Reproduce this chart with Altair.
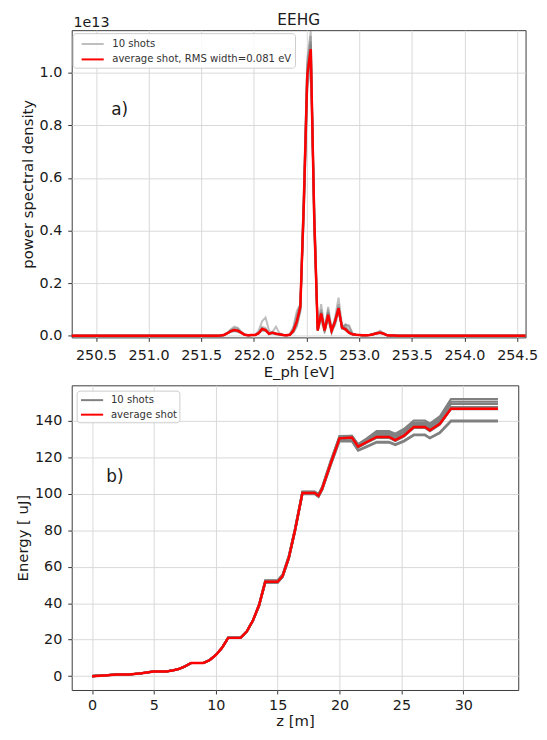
import altair as alt
import pandas as pd

# ---------------- panel a) : spectrum (power in units of 1e13) ----------------
E_LEFT = [250.0]
E_RIGHT = [255.0]
E_CORE = [
    251.649, 251.682, 251.715, 251.748, 251.781, 251.814, 251.847, 251.880, 251.913, 251.946, 251.979,
    252.012, 252.045, 252.078, 252.111, 252.144, 252.177, 252.210, 252.243, 252.276, 252.309, 252.342,
    252.375, 252.408, 252.441, 252.474, 252.507, 252.540, 252.573, 252.606, 252.639, 252.672, 252.705,
    252.738, 252.771, 252.804, 252.837, 252.870, 252.903, 252.936, 252.969, 253.002, 253.035, 253.068,
    253.101, 253.134, 253.167, 253.200, 253.233, 253.266, 253.299, 253.332, 253.365, 253.398, 253.431,
]

SPEC_AVG = [
    0, .001, .003, .010, .018, .022, .020, .012, .004, .002, .003,
    .003, .010, .026, .022, .008, .012, .008, .006, .003, .002, .004,
    .020, .055, .11, .50, .99, 1.09, .45, .02, .085, .02, .08,
    .02, .055, .105, .031, .025, .012, .006, .004, .003, .002, .002,
    .003, .006, .010, .012, .008, .002, .001, .001, 0, 0, 0,
]

SPEC_SHOT_1 = [
    0, .001, .004, .012, .025, .035, .030, .015, .005, .002, .003,
    .004, .020, .055, .070, .020, .010, .006, .005, .003, .002, .005,
    .030, .080, .120, .55, 1.05, 1.16, .40, .03, .12, .03, .10,
    .02, .07, .145, .04, .03, .015, .006, .004, .003, .002, .002,
    .004, .008, .012, .020, .010, .003, .001, .001, 0, 0, 0,
]
SPEC_SHOT_2 = [
    0, .001, .003, .010, .020, .025, .022, .012, .004, .002, .003,
    .003, .008, .030, .025, .006, .015, .035, .010, .004, .002, .004,
    .015, .040, .10, .48, 1.00, 1.10, .48, .02, .06, .01, .11,
    .03, .05, .10, .03, .04, .020, .008, .004, .003, .002, .002,
    .003, .005, .010, .012, .008, .002, .001, .001, 0, 0, 0,
]
SPEC_SHOT_3 = [
    0, .001, .002, .008, .015, .018, .016, .010, .004, .002, .003,
    .003, .010, .020, .018, .006, .010, .006, .005, .003, .002, .006,
    .035, .095, .12, .45, .95, 1.06, .50, .04, .09, .02, .06,
    .01, .05, .11, .03, .02, .010, .005, .004, .003, .002, .002,
    .003, .006, .010, .010, .006, .002, .001, .001, 0, 0, 0,
]
SPEC_SHOT_4 = [
    0, .001, .003, .011, .022, .030, .028, .014, .004, .002, .002,
    .003, .012, .035, .030, .010, .014, .010, .006, .003, .002, .003,
    .012, .035, .09, .52, 1.02, 1.12, .42, .02, .10, .02, .09,
    .02, .04, .09, .04, .03, .015, .006, .004, .003, .002, .002,
    .003, .007, .012, .015, .008, .002, .001, .001, 0, 0, 0,
]
SPEC_SHOT_5 = [
    0, .001, .003, .009, .015, .018, .015, .010, .004, .002, .003,
    .003, .009, .022, .020, .008, .010, .007, .006, .003, .002, .004,
    .018, .050, .10, .47, .94, 1.02, .46, .03, .07, .02, .07,
    .02, .06, .10, .03, .025, .012, .006, .004, .003, .002, .002,
    .003, .006, .009, .011, .007, .002, .001, .001, 0, 0, 0,
]
SPEC_SHOT_6 = [
    0, .001, .003, .010, .018, .024, .022, .012, .005, .002, .003,
    .003, .010, .025, .022, .008, .012, .008, .006, .003, .002, .004,
    .025, .070, .12, .53, 1.03, 1.14, .47, .02, .09, .02, .09,
    .01, .06, .12, .03, .03, .012, .006, .004, .003, .002, .002,
    .003, .006, .010, .013, .008, .002, .001, .001, 0, 0, 0,
]
SPEC_SHOT_7 = [
    0, .001, .003, .010, .017, .020, .018, .011, .004, .002, .003,
    .003, .010, .025, .020, .008, .011, .008, .006, .003, .002, .004,
    .020, .050, .11, .50, .98, 1.08, .45, .03, .08, .02, .08,
    .02, .05, .10, .035, .04, .040, .010, .004, .003, .002, .002,
    .003, .006, .010, .012, .008, .002, .001, .001, 0, 0, 0,
]
SPEC_SHOT_8 = [
    0, .001, .003, .010, .016, .020, .018, .012, .004, .002, .003,
    .003, .011, .024, .020, .008, .012, .008, .006, .003, .002, .004,
    .018, .050, .10, .50, .99, 1.09, .44, .02, .085, .02, .075,
    .02, .055, .10, .03, .025, .012, .006, .004, .003, .002, .002,
    .003, .006, .010, .012, .008, .002, .001, .001, 0, 0, 0,
]
SPEC_SHOT_9 = [
    0, .001, .003, .010, .018, .022, .020, .012, .004, .002, .003,
    .003, .010, .026, .022, .008, .012, .008, .006, .003, .002, .004,
    .020, .055, .11, .49, .97, 1.05, .46, .03, .08, .03, .08,
    .02, .06, .11, .03, .025, .012, .006, .004, .003, .002, .002,
    .003, .006, .010, .012, .008, .002, .001, .001, 0, 0, 0,
]
SPEC_SHOT_10 = [
    0, .001, .003, .010, .018, .022, .020, .012, .004, .002, .003,
    .003, .010, .026, .022, .008, .012, .008, .006, .003, .002, .004,
    .020, .055, .11, .51, 1.00, 1.11, .44, .02, .085, .02, .08,
    .02, .055, .105, .03, .045, .035, .008, .004, .003, .002, .002,
    .003, .006, .010, .012, .008, .002, .001, .001, 0, 0, 0,
]
SPEC_SHOTS = [SPEC_SHOT_1, SPEC_SHOT_2, SPEC_SHOT_3, SPEC_SHOT_4, SPEC_SHOT_5,
              SPEC_SHOT_6, SPEC_SHOT_7, SPEC_SHOT_8, SPEC_SHOT_9, SPEC_SHOT_10]

# ---------------- panel b) : pulse energy along undulator ----------------
Z_M = [
    0, 1, 2, 3, 4, 5, 6, 6.5, 7, 7.5, 8,
    9, 9.5, 10, 10.5, 11, 12, 12.5, 13, 13.5, 14, 15,
    15.4, 15.9, 16.4, 17, 18, 18.3, 18.6, 19.3, 20, 21, 21.5,
    22.2, 23, 24, 24.5, 25.2, 26, 26.9, 27.3, 28.1, 29, 32.8,
]
ENERGY_EARLY = [0, 0.4, 0.9, 0.9, 1.6, 2.6, 2.6, 3.1, 3.9, 5.3, 7.2,
                7.2, 8.8, 11.6, 15.5, 21.0, 21.0, 24.5, 30.5]
ENERGY_AVG_LATE = [39, 51.8, 51.8, 55, 65, 80, 100.5, 100.5, 99, 103, 117, 130.5, 130.9,
                   126, 128.5, 131.3, 131.3, 129.5, 132, 136.7, 136.7, 134.9, 138.5, 146.8, 146.8]
ENERGY_SHOTS_LATE = [
    [39.5, 52.6, 52.6, 55.8, 66, 81, 101.3, 101.3, 99.8, 104, 118.5, 131.7, 131.9,
     127.3, 130.5, 134.5, 134.5, 133, 135.6, 140.3, 140.3, 138.6, 142.5, 152, 152],
    [39.4, 52.4, 52.4, 55.6, 65.8, 80.8, 101.2, 101.2, 99.7, 103.8, 118, 131.5, 131.8,
     127, 130, 133.5, 133.5, 132, 134.6, 139.2, 139.2, 137.5, 141.3, 150.6, 150.6],
    [39.2, 52.2, 52.2, 55.4, 65.5, 80.5, 101, 101, 99.5, 103.5, 117.8, 131.3, 131.6,
     126.8, 129.6, 132.8, 132.8, 131.2, 133.8, 138.4, 138.4, 136.6, 140.4, 149.4, 149.4],
    [39, 52, 52, 55.2, 65.3, 80.3, 100.8, 100.8, 99.3, 103.3, 117.5, 131, 131.3,
     126.5, 129.1, 131.9, 131.9, 130.2, 132.6, 137.4, 137.4, 135.6, 139.2, 147.6, 147.6],
    [38.9, 51.8, 51.8, 55, 65, 80, 100.6, 100.6, 99.1, 103, 117.2, 130.8, 131.1,
     126.2, 128.8, 131.6, 131.6, 129.9, 132.3, 137, 137, 135.2, 138.8, 147.2, 147.2],
    [38.8, 51.7, 51.7, 54.9, 64.9, 79.9, 100.4, 100.4, 98.9, 102.9, 117, 130.5, 130.8,
     125.9, 128.5, 131.3, 131.3, 129.6, 132, 136.8, 136.8, 135, 138.6, 147, 147],
    [38.7, 51.6, 51.6, 54.8, 64.8, 79.8, 100.3, 100.3, 98.8, 102.8, 116.8, 130.3, 130.6,
     125.7, 128.3, 131.1, 131.1, 129.3, 131.8, 136.5, 136.5, 134.7, 138.3, 146.8, 146.8],
    [38.6, 51.5, 51.5, 54.7, 64.7, 79.7, 100.2, 100.2, 98.7, 102.6, 116.6, 130.1, 130.4,
     125.4, 128, 130.8, 130.8, 129, 131.5, 136.2, 136.2, 134.4, 138, 146.5, 146.5],
    [38.6, 51.4, 51.4, 54.5, 64.5, 79.5, 100, 100, 98.5, 102.4, 116.3, 129.4, 129.2,
     124, 126.2, 128.6, 128.6, 127.2, 129.2, 132.6, 132.6, 130.8, 133.8, 140.2, 140.2],
    [38.5, 51.3, 51.3, 54.4, 64.4, 79.4, 99.9, 99.9, 98.4, 102.2, 116, 129, 128.8,
     123.7, 125.8, 128.2, 128.2, 126.8, 128.8, 132.2, 132.2, 130.5, 133.4, 139.8, 139.8],
]

LAB_SHOTS = "10 shots"
LAB_AVG_A = "average shot, RMS width=0.081 eV"
LAB_AVG_B = "average shot"

for s in SPEC_SHOTS + [SPEC_AVG]:
    assert len(s) == len(E_CORE), len(s)
for s in ENERGY_SHOTS_LATE + [ENERGY_AVG_LATE]:
    assert len(ENERGY_EARLY) + len(s) == len(Z_M), len(s)

E_ALL = E_LEFT + E_CORE + E_RIGHT
rows_a = []
for k, s in enumerate(SPEC_SHOTS):
    for e, p in zip(E_ALL, [0.0] + s + [0.0]):
        rows_a.append({"E": e, "P": p, "shot": f"s{k}", "group": LAB_SHOTS})
df_a_shots = pd.DataFrame(rows_a)
df_a_avg = pd.DataFrame({"E": E_ALL, "P": [0.0] + SPEC_AVG + [0.0], "group": LAB_AVG_A})

rows_b = []
for k, s in enumerate(ENERGY_SHOTS_LATE):
    for z, en in zip(Z_M, ENERGY_EARLY + s):
        rows_b.append({"z": z, "W": en, "shot": f"s{k}", "group": LAB_SHOTS})
df_b_shots = pd.DataFrame(rows_b)
df_b_avg = pd.DataFrame({"z": Z_M, "W": ENERGY_EARLY + ENERGY_AVG_LATE, "group": LAB_AVG_B})

FONT = "DejaVu Sans"
TXT = "#1a1a1a"


def legend(x, y, pad, soff, loff, rowpad):
    return alt.Legend(title=None, orient="none", legendX=x, legendY=y,
                      symbolType="M-1.6,0H1.6", symbolSize=196, symbolStrokeWidth=2,
                      labelFont=FONT, labelFontSize=10.2, labelColor="#333", labelLimit=0,
                      fillColor="rgba(255,255,255,0.85)", strokeColor="#cccccc", cornerRadius=3,
                      padding=pad, symbolOffset=soff, labelOffset=loff, rowPadding=rowpad)


def xaxis(values, title, lpad, tpad, fmt=None):
    kw = dict(values=values, title=title, labelFlush=False, labelOverlap=False,
              tickSize=4, labelPadding=lpad, titlePadding=tpad)
    if fmt:
        kw["format"] = fmt
    return alt.Axis(**kw)


def yaxis(values, title, fmt=None):
    kw = dict(values=values, title=title, labelFlush=False, labelOverlap=False,
              tickSize=4, labelPadding=6, titlePadding=3.75)
    if fmt:
        kw["format"] = fmt
    return alt.Axis(**kw)


# ----- top panel -----
xa = alt.X("E:Q", scale=alt.Scale(domain=[250.27, 254.58], nice=False, zero=False),
           axis=xaxis([250.5, 251.0, 251.5, 252.0, 252.5, 253.0, 253.5, 254.0, 254.5], "E_ph [eV]",
                      7, 3.3, ".1f"))
ya = alt.Y("P:Q", scale=alt.Scale(domain=[-0.006, 1.162], nice=False, zero=False),
           axis=yaxis([0, 0.2, 0.4, 0.6, 0.8, 1.0], "power spectral density", ".1f"))
leg_a = legend(1, 3, 3, 9.2, 11.8, 1.6)
col_a = alt.Color("group:N", scale=alt.Scale(domain=[LAB_SHOTS, LAB_AVG_A], range=["#808080", "#ff0000"]),
                  legend=leg_a)
op_a = alt.Opacity("group:N", scale=alt.Scale(domain=[LAB_SHOTS, LAB_AVG_A], range=[0.5, 1.0]),
                   legend=leg_a)

shots_a = alt.Chart(df_a_shots).mark_line(strokeWidth=2, clip=True).encode(
    x=xa, y=ya, detail="shot:N", color=col_a, opacity=op_a)
avg_a = alt.Chart(df_a_avg).mark_line(strokeWidth=2.5, clip=True).encode(
    x=xa, y=ya, color=col_a, opacity=op_a)
lab_a = alt.Chart(pd.DataFrame({"E": [250.645], "P": [0.86], "t": ["a)"]})).mark_text(
    font=FONT, fontSize=17, align="left", baseline="middle", color=TXT).encode(x="E:Q", y="P:Q", text="t:N")
exp_a = alt.Chart(pd.DataFrame({"t": ["1e13"]})).mark_text(
    font=FONT, fontSize=14.5, align="left", baseline="alphabetic", color=TXT).encode(
    x=alt.value(1.7), y=alt.value(-3.6), text="t:N")
ttl_a = alt.Chart(pd.DataFrame({"t": ["EEHG"]})).mark_text(
    font=FONT, fontSize=15.5, align="center", baseline="alphabetic", color=TXT).encode(
    x=alt.value(229.7), y=alt.value(-5.3), text="t:N")

top = alt.layer(shots_a, avg_a, lab_a, exp_a, ttl_a).properties(width=459.4, height=311)

# ----- bottom panel -----
xb = alt.X("z:Q", scale=alt.Scale(domain=[-1.64, 34.44], nice=False, zero=False),
           axis=xaxis([0, 5, 10, 15, 20, 25, 30], "z [m]", 5, 1.3))
yb = alt.Y("W:Q", scale=alt.Scale(domain=[-7.6, 159.6], nice=False, zero=False),
           axis=yaxis([0, 20, 40, 60, 80, 100, 120, 140], "Energy [ uJ]"))
col_b = alt.Color("group:N", scale=alt.Scale(domain=[LAB_SHOTS, LAB_AVG_B], range=["#808080", "#ff0000"]),
                  legend=legend(5, 5.4, 1.6, 6, 11.1, 0.7))
shots_b = alt.Chart(df_b_shots).mark_line(strokeWidth=2.2, clip=True).encode(
    x=xb, y=yb, detail="shot:N", color=col_b)
avg_b = alt.Chart(df_b_avg).mark_line(strokeWidth=2.5, clip=True).encode(x=xb, y=yb, color=col_b)
lab_b = alt.Chart(pd.DataFrame({"z": [1.15], "W": [109.2], "t": ["b)"]})).mark_text(
    font=FONT, fontSize=17, align="left", baseline="middle", color=TXT).encode(x="z:Q", y="W:Q", text="t:N")

bot = alt.layer(shots_b, avg_b, lab_b).properties(width=452, height=308.4)

chart = alt.concat(top, bot, columns=1, spacing=3.5, align="none").resolve_scale(
    color="independent", opacity="independent", x="independent", y="independent"
).properties(
    padding={"left": 7.5, "top": 0, "right": 0, "bottom": 0}
).configure_view(
    stroke="#3a3a3a", strokeWidth=1
).configure_axis(
    domain=False, grid=True, gridColor="#d8d8d8", gridWidth=1,
    tickColor="#333", tickWidth=1,
    labelFont=FONT, labelFontSize=14.5, labelColor=TXT,
    titleFont=FONT, titleFontSize=15, titleFontWeight="normal", titleColor=TXT,
)

chart.save("out.html", embed_options={"renderer": "svg", "actions": False})
